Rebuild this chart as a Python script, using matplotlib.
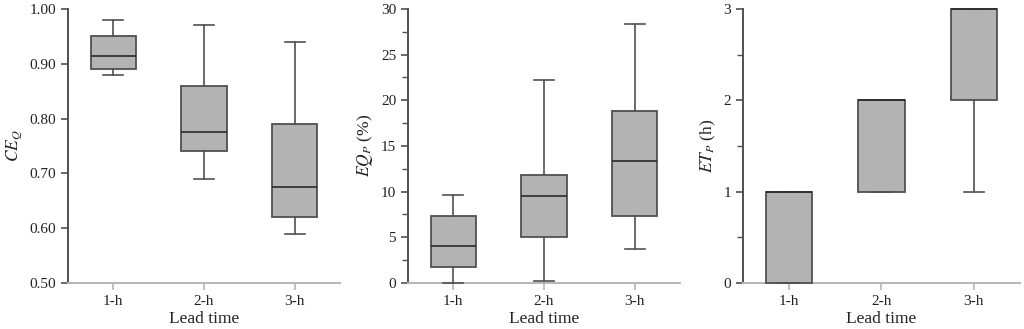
import numpy as np
import matplotlib.pyplot as plt
from matplotlib.ticker import MultipleLocator, FormatStrFormatter

plt.rcParams['font.family'] = ['Liberation Serif', 'DejaVu Serif']
plt.rcParams['mathtext.fontset'] = 'stix'

leads = ["1-h", "2-h", "3-h"]

# box stats: whislo, q1, med, q3, whishi
ceq = [[0.88, 0.89, 0.915, 0.95, 0.98],
       [0.69, 0.74, 0.775, 0.86, 0.97],
       [0.59, 0.62, 0.675, 0.79, 0.94]]
eqp = [[0.0, 1.7, 4.0, 7.3, 9.6],
       [0.2, 5.05, 9.55, 11.85, 22.2],
       [3.7, 7.35, 13.3, 18.8, 28.4]]
etp = [[0.0, 0.0, 1.0, 1.0, 1.0],
       [1.0, 1.0, 2.0, 2.0, 2.0],
       [1.0, 2.0, 3.0, 3.0, 3.0]]

fig = plt.figure(figsize=(10.24, 3.29), dpi=100)
pos = [[0.0664, 0.140, 0.2656, 0.8326],
       [0.3984, 0.140, 0.2656, 0.8326],
       [0.7256, 0.140, 0.2704, 0.8326]]

dark = "#505050"
light = "#b5b5b5"


def stats(rows):
    out = []
    for r, lab in zip(rows, leads):
        out.append(dict(whislo=r[0], q1=r[1], med=r[2], q3=r[3], whishi=r[4], label=lab))
    return out


panels = [
    (ceq, r"$CE_Q$", (0.5, 1.0), 0.1, None, "%.2f"),
    (eqp, r"$EQ_P$ (%)", (0, 30), 5, 2.5, "%d"),
    (etp, r"$ET_P$ (h)", (0, 3), 1, 0.5, "%d"),
]

for p, (rows, ylab, ylim, major, minor, fmt) in zip(pos, panels):
    ax = fig.add_axes(p)
    bp = ax.bxp(stats(rows), positions=[1, 2, 3], widths=0.5, showfliers=False,
                patch_artist=True,
                boxprops=dict(facecolor="#b3b3b3", edgecolor=dark, linewidth=1.3),
                medianprops=dict(color="#2a2a2a", linewidth=1.2),
                whiskerprops=dict(color=dark, linewidth=1.2),
                capprops=dict(color=dark, linewidth=1.2),
                capwidths=0.22)
    for key in ["boxes", "medians", "whiskers", "caps"]:
        for art in bp[key]:
            art.set_clip_on(False)
            art.set_zorder(3)
    ax.set_xlim(0.5, 3.5)
    ax.set_ylim(*ylim)
    ax.yaxis.set_major_locator(MultipleLocator(major))
    if minor:
        ax.yaxis.set_minor_locator(MultipleLocator(minor))
    ax.yaxis.set_major_formatter(FormatStrFormatter(fmt))
    ax.set_ylabel(ylab, fontsize=12.5, color="#222222")
    ax.set_xlabel("Lead time", fontsize=12.5, color="#222222", labelpad=2)
    ax.spines["top"].set_visible(False)
    ax.spines["right"].set_visible(False)
    ax.spines["left"].set_color(dark)
    ax.spines["left"].set_linewidth(1.4)
    ax.spines["bottom"].set_color(light)
    ax.spines["bottom"].set_linewidth(1.4)
    ax.tick_params(axis="y", which="major", length=5, width=1.2, color=dark,
                   labelsize=11, labelcolor="#222222")
    ax.tick_params(axis="y", which="minor", length=4, width=1.0, color=dark)
    ax.tick_params(axis="x", length=5, width=1.2, color=light,
                   labelsize=11, labelcolor="#222222")

fig.savefig("out.png", dpi=100)
